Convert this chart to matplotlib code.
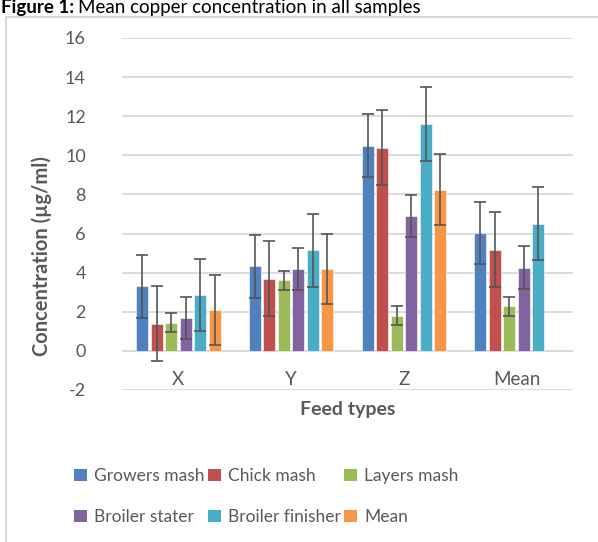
import numpy as np
import matplotlib
matplotlib.use("Agg")
import matplotlib.pyplot as plt
from matplotlib.patches import Patch
from matplotlib.lines import Line2D

categories = ["X", "Y", "Z", "Mean"]
series = ["Growers mash", "Chick mash", "Layers mash", "Broiler stater", "Broiler finisher", "Mean"]
growers = [3.30, 4.32, 10.50, 6.03]
chick = [1.40, 3.70, 10.40, 5.17]
layers = [1.45, 3.60, 1.80, 2.27]
stater = [1.70, 4.18, 6.90, 4.25]
finisher = [2.85, 5.15, 11.60, 6.50]
mean = [2.10, 4.20, 8.25, np.nan]
growers_err = [1.60, 1.60, 1.62, 1.60]
chick_err = [1.90, 1.92, 1.92, 1.92]
layers_err = [0.47, 0.48, 0.49, 0.49]
stater_err = [1.07, 1.08, 1.08, 1.09]
finisher_err = [1.85, 1.87, 1.87, 1.87]
mean_err = [1.80, 1.78, 1.80, np.nan]
yticks = [-2, 0, 2, 4, 6, 8, 10, 12, 14, 16]

values = [growers, chick, layers, stater, finisher, mean]
errors = [growers_err, chick_err, layers_err, stater_err, finisher_err, mean_err]
colors = ["#4F81BD", "#C0504D", "#9BBB59", "#8064A2", "#4BACC6", "#F79646"]

plt.rcParams['font.family'] = ['Lato', 'DejaVu Sans']
TXT = "#595959"
GRID = "#D9D9D9"

fig = plt.figure(figsize=(5.98, 5.42), dpi=100)
W, H = 598, 542
ax = fig.add_axes([122 / W, 1 - 390 / H, (573 - 122) / W, (390 - 38) / H])

x = np.arange(len(categories))
pitch = 0.1286
bw = 0.106
for i, (v, e, c) in enumerate(zip(values, errors, colors)):
    pos = x + (i - 2.5) * pitch
    ax.bar(pos, v, width=bw, color=c, edgecolor="white", linewidth=0.4, zorder=3)
    ax.errorbar(pos, v, yerr=e, fmt="none", ecolor="#555555", elinewidth=1.2,
                capsize=4.2, capthick=1.2, zorder=4)

ax.set_xlim(-0.5, len(categories) - 0.5)
ax.set_ylim(-2, 16)
ax.set_yticks(yticks)
ax.set_yticklabels([str(t) for t in yticks], fontsize=13, color=TXT)
ax.tick_params(axis="y", length=0, pad=26)
ax.set_xticks([])
ax.grid(axis="y", color=GRID, linewidth=1.3, zorder=0)
ax.axhline(0, color=GRID, linewidth=1.3, zorder=1)
for s in ax.spines.values():
    s.set_visible(False)

for i, cat in enumerate(categories):
    ax.text(x[i], -1.45, cat, ha="center", va="center", fontsize=13.5, color=TXT)

fig.text(348 / W, 1 - 409 / H, "Feed types", ha="center", va="center",
         fontsize=14, fontweight="bold", color=TXT)
fig.text(42 / W, 1 - 256 / H, "Concentration (µg/ml)", ha="center", va="center",
         rotation=90, fontsize=14.5, fontweight="bold", color=TXT)

# title
base = 1 - 13 / H
t1 = fig.text(1 / W, base, "Figure 1:", ha="left", va="baseline",
              fontsize=13.5, fontweight="bold", color="black")
fig.canvas.draw()
bb = t1.get_window_extent()
fig.text((bb.x1 + 4) / W, base, "Mean copper concentration in all samples",
         ha="left", va="baseline", fontsize=13.5, color="black")

# chart frame
fy = 1 - 17 / H
fig.add_artist(Line2D([6 / W, 6 / W], [0, fy], color=GRID, lw=1.5,
                      transform=fig.transFigure))
fig.add_artist(Line2D([6 / W, 1], [fy, fy], color=GRID, lw=1.5,
                      transform=fig.transFigure))

handles = [Patch(facecolor=c, edgecolor="none") for c in colors]
order = [0, 3, 1, 4, 2, 5]
leg = fig.legend([handles[k] for k in order], [series[k] for k in order],
                 ncol=3, loc="upper left", bbox_to_anchor=(67 / W, 1 - 461 / H),
                 frameon=False, fontsize=12.5, labelcolor=TXT,
                 handlelength=0.75, handleheight=0.75, handletextpad=0.4,
                 columnspacing=0.2, labelspacing=1.45, borderaxespad=0)

fig.savefig("out.png", dpi=100)
